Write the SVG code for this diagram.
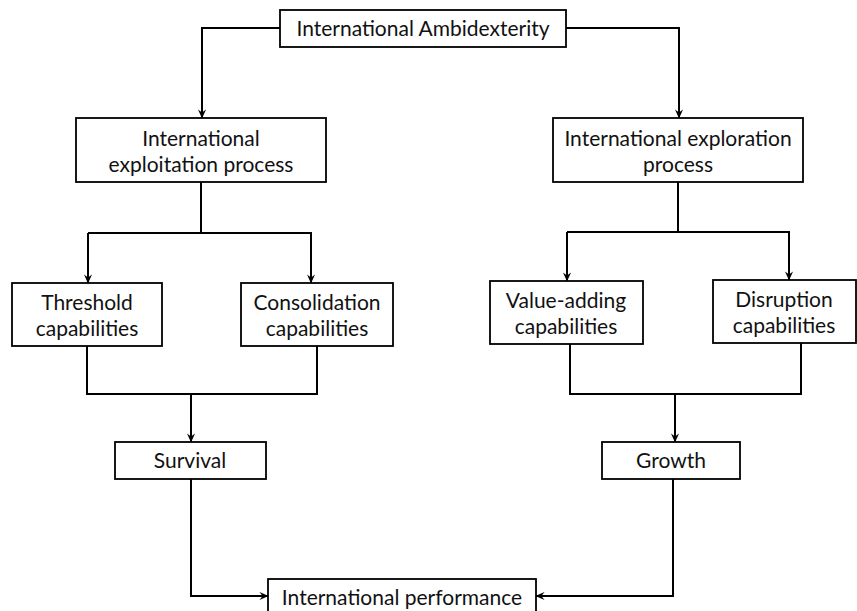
<svg xmlns="http://www.w3.org/2000/svg" width="857" height="611" viewBox="0 0 857 611">
  <defs>
    <marker id="arrow" viewBox="0 0 10 10" refX="9.5" refY="5" markerWidth="9" markerHeight="9" markerUnits="userSpaceOnUse" orient="auto">
      <path d="M0,0.5 L10,5 L0,9.5 L3.5,5 Z" fill="#000"/>
    </marker>
    <style>
      .box { fill: #fff; stroke: #000; stroke-width: 1.8; }
      .label { font-family: Lato, "Open Sans", "Liberation Sans", sans-serif; font-size: 21px; fill: #111; text-anchor: middle; }
      .edge { fill: none; stroke: #000; stroke-width: 2; }
      .arrowed { marker-end: url(#arrow); }
    </style>
  </defs>
  <rect width="857" height="611" fill="#fff"/>

  <!-- connectors -->
  <g id="connectors">
    <path class="edge arrowed" d="M280,28 H202 V118"/>
    <path class="edge arrowed" d="M566,28 H679 V118"/>
    <path class="edge" d="M201,182 V233"/>
    <path class="edge arrowed" d="M88,233 V283"/>
    <path class="edge arrowed" d="M88,233 H311 V283"/>
    <path class="edge" d="M678,182 V232"/>
    <path class="edge arrowed" d="M567,232 V281"/>
    <path class="edge arrowed" d="M567,232 H789 V280"/>
    <path class="edge" d="M87,346 V394 H317 V346"/>
    <path class="edge arrowed" d="M191,394 V442"/>
    <path class="edge" d="M570,344 V394 H801 V343"/>
    <path class="edge arrowed" d="M675,394 V442"/>
    <path class="edge arrowed" d="M191,479 V596 H268"/>
    <path class="edge arrowed" d="M673,479 V596 H536"/>
  </g>

  <g id="ambidexterity">
    <rect class="box" x="280" y="10" width="286" height="37"/>
    <text class="label" x="423" y="36">International Ambidexterity</text>
  </g>
  <g id="exploitation">
    <rect class="box" x="76" y="118" width="250" height="64"/>
    <text class="label" x="201" y="146">International</text>
    <text class="label" x="201" y="172">exploitation process</text>
  </g>
  <g id="exploration">
    <rect class="box" x="553" y="118" width="250" height="64"/>
    <text class="label" x="678" y="146">International exploration</text>
    <text class="label" x="678" y="172">process</text>
  </g>
  <g id="threshold">
    <rect class="box" x="12" y="283" width="150" height="63"/>
    <text class="label" x="87" y="310">Threshold</text>
    <text class="label" x="87" y="336">capabilities</text>
  </g>
  <g id="consolidation">
    <rect class="box" x="241" y="283" width="152" height="63"/>
    <text class="label" x="317" y="310">Consolidation</text>
    <text class="label" x="317" y="336">capabilities</text>
  </g>
  <g id="value-adding">
    <rect class="box" x="490" y="281" width="153" height="63"/>
    <text class="label" x="566" y="308">Value-adding</text>
    <text class="label" x="566" y="334">capabilities</text>
  </g>
  <g id="disruption">
    <rect class="box" x="713" y="280" width="143" height="63"/>
    <text class="label" x="784" y="307">Disruption</text>
    <text class="label" x="784" y="333">capabilities</text>
  </g>
  <g id="survival">
    <rect class="box" x="115" y="442" width="151" height="37"/>
    <text class="label" x="190" y="468">Survival</text>
  </g>
  <g id="growth">
    <rect class="box" x="602" y="442" width="138" height="37"/>
    <text class="label" x="671" y="468">Growth</text>
  </g>
  <g id="performance">
    <rect class="box" x="268" y="579" width="268" height="44"/>
    <text class="label" x="402" y="605">International performance</text>
  </g>
</svg>
